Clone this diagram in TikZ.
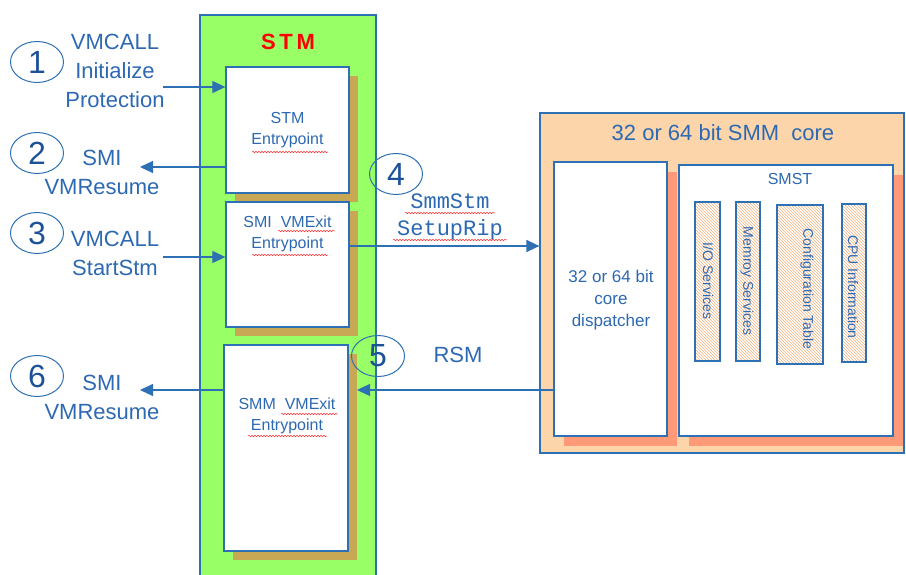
\documentclass[tikz,border=0pt]{standalone}
\usepackage{fontspec}
\setmainfont{Liberation Sans}
\newfontfamily\monofont{Liberation Mono}
\usetikzlibrary{arrows.meta,shapes.geometric,shadows,patterns,decorations.pathmorphing}
\definecolor{lineblue}{RGB}{46,112,180}
\definecolor{txtblue}{RGB}{45,105,178}
\definecolor{numblue}{RGB}{30,82,150}
\definecolor{stmgreen}{RGB}{153,255,102}
\definecolor{shadowbrown}{RGB}{200,168,85}
\definecolor{corepeach}{RGB}{253,213,170}
\definecolor{salmon}{RGB}{255,153,120}
\definecolor{hatch}{RGB}{247,178,125}
\tikzset{
  numcirc/.style={ellipse, draw=lineblue, line width=1pt, minimum width=53pt, minimum height=41pt,
    inner sep=0pt, text=numblue, font=\fontsize{32}{32}\selectfont},
  bigtxt/.style={text=txtblue, align=center, font=\fontsize{22}{29}\selectfont},
  boxtxt/.style={text=txtblue, align=center, font=\fontsize{16}{21}\selectfont},
  entrybox/.style={draw=lineblue, line width=1.3pt, fill=white, minimum width=123pt,
    drop shadow={shadow xshift=9pt, shadow yshift=-9pt, fill=shadowbrown, opacity=1}},
  innerbox/.style={draw=lineblue, line width=1.3pt, fill=white,
    drop shadow={shadow xshift=10pt, shadow yshift=-10pt, fill=salmon, opacity=1}},
  svcbox/.style={draw=lineblue, line width=1.3pt, pattern=north west lines, pattern color=hatch,
    minimum width=24pt, minimum height=159pt},
  svctxt/.style={text=txtblue, rotate=-90, font=\fontsize{14}{16}\selectfont},
  flow/.style={draw=lineblue, line width=1.2pt, -{Triangle[length=13pt,width=12pt]}},
  squig/.style={red!80, line width=.5pt, decorate, decoration={snake, amplitude=.7pt, segment length=3pt}}
}
\begin{document}
\begin{tikzpicture}[x=1pt,y=-1pt]
\useasboundingbox (0,0) rectangle (906,575);

\filldraw[fill=stmgreen, draw=lineblue, line width=1.2pt] (200,580) |- (376,15) -- (376,580);
\node[text=red, font=\bfseries\fontsize{22}{26}\selectfont] (stmtitle) at (288,42) {S\,T\,M};

\node[entrybox, minimum height=126pt] (stment) at (287.5,130) {};
\node[entrybox, minimum height=125pt] (smient) at (287.5,264.5) {};
\node[entrybox, minimum width=124pt, minimum height=206pt] (smment) at (286,448) {};
\node[boxtxt] (stmlbl) at (stment.center) {STM\\Entrypoint};
\node[boxtxt] (smilbl) at (287.5,233.5) {SMI\ \ VMExit\\Entrypoint};
\node[boxtxt] (smmlbl) at (287,416) {SMM\ \ VMExit\\Entrypoint};

\node[numcirc] (n1) at (37,62) {1};
\node[bigtxt] (l1) at (115,71) {VMCALL\\Initialize\\Protection};
\node[numcirc] (n2) at (37,153) {2};
\node[bigtxt] (l2) at (102,172.5) {SMI\\VMResume};
\node[numcirc] (n3) at (37,233) {3};
\node[bigtxt] (l3) at (115,253.5) {VMCALL\\StartStm};
\node[numcirc] (n6) at (37,376) {6};
\node[bigtxt] (l6) at (102,397) {SMI\\VMResume};

\node[numcirc] (n4) at (396,174) {4};
\node[text=txtblue, align=center, font=\monofont\fontsize{22}{27}\selectfont] (setup) at (450,216.5) {SmmStm\\SetupRip};
\node[numcirc] (n5) at (378,356) {5};
\node[bigtxt] (rsm) at (458,355) {RSM};

\node[draw=lineblue, line width=1.2pt, fill=corepeach, minimum width=364pt, minimum height=340pt] (core) at (722,283) {};
\node[bigtxt] (coretitle) at (723,133) {32 or 64 bit SMM\ \ core};
\node[innerbox, minimum width=113pt, minimum height=274pt] (disp) at (610.5,299) {};
\node[boxtxt, font=\fontsize{17}{22}\selectfont] (displbl) at (611,300) {32 or 64 bit\\core\\dispatcher};
\node[innerbox, minimum width=214pt, minimum height=271pt] (smst) at (786,300.5) {};
\node[boxtxt] (smstlbl) at (790,179) {SMST};

\node[svcbox, minimum width=25pt] (io) at (707.5,281.5) {};
\node[svcbox] (mem) at (748,281.5) {};
\node[svcbox, minimum width=46pt] (cfg) at (800,284.5) {};
\node[svcbox, minimum height=158pt] (cpu) at (854,283) {};
\node[svctxt] (iolbl) at (708,281) {I/O Services};
\node[svctxt] (memlbl) at (747,281) {Memroy Services};
\node[svctxt] (cfglbl) at (807,289) {Configuration Table};
\node[svctxt] (cpulbl) at (853,287) {CPU Information};

\coordinate (a1) at (163,87);
\coordinate (a2) at (140,167);
\coordinate (a3) at (163,257);
\coordinate (a4) at (349,246);
\coordinate (a5) at (357,390);
\coordinate (a6) at (140,390);
\draw[flow] (a1) -- (a1 -| stment.west);
\draw[flow] (a2 -| stment.west) -- (a2);
\draw[flow] (a3) -- (a3 -| smient.west);
\draw[flow] (a4) -- (a4 -| core.west);
\draw[flow] (a5 -| disp.west) -- (a5);
\draw[flow] (a6 -| smment.west) -- (a6);

\draw[squig] (252,152) -- (328,152);
\draw[squig] (278,231) -- (335,231);
\draw[squig] (252,255) -- (328,255);
\draw[squig] (281,414) -- (338,414);
\draw[squig] (248,436) -- (327,436);
\draw[squig] (405,213) -- (495,213);
\draw[squig] (393,240) -- (507,240);
\end{tikzpicture}
\end{document}
